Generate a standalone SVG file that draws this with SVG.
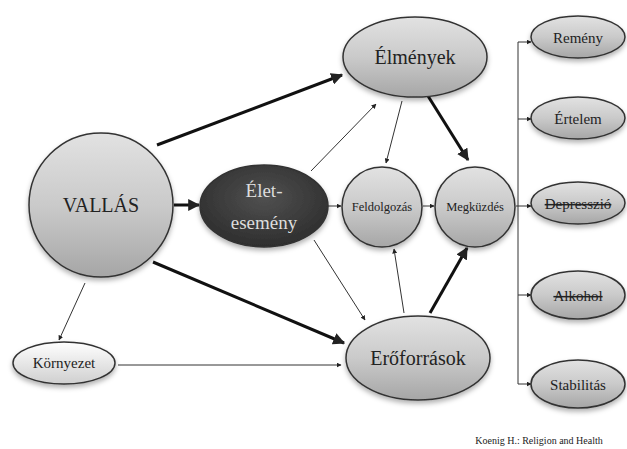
<svg xmlns="http://www.w3.org/2000/svg" width="627" height="449" viewBox="0 0 627 449">
<defs>
<linearGradient id="g" x1="0" y1="0" x2="0" y2="1">
<stop offset="0" stop-color="#e2e2e2"/><stop offset="0.5" stop-color="#cacaca"/><stop offset="1" stop-color="#a6a6a6"/>
</linearGradient>
<linearGradient id="gl" x1="0" y1="0" x2="0" y2="1">
<stop offset="0" stop-color="#ffffff"/><stop offset="1" stop-color="#cfcfcf"/>
</linearGradient>
<radialGradient id="gd" cx="0.5" cy="0.4" r="0.6">
<stop offset="0" stop-color="#505050"/><stop offset="1" stop-color="#2e2e2e"/>
</radialGradient>
<filter id="sh" x="-20%" y="-20%" width="140%" height="150%">
<feDropShadow dx="0" dy="3" stdDeviation="2.5" flood-color="#000" flood-opacity="0.3"/>
</filter>
<marker id="a" viewBox="0 0 10 10" refX="9" refY="5" markerWidth="5" markerHeight="5" orient="auto" markerUnits="userSpaceOnUse"><path d="M0,0 L10,5 L0,10 z" fill="#222"/></marker>
<marker id="ab" viewBox="0 0 10 10" refX="9" refY="5" markerWidth="4" markerHeight="4" orient="auto"><path d="M0,0 L10,5 L0,10 z" fill="#222"/></marker>
</defs>
<style>
.n{fill:url(#g);stroke:#333;stroke-width:1.5;filter:url(#sh)}
.thin{stroke:#333;stroke-width:1;fill:none;marker-end:url(#a)}
.thick{stroke:#111;stroke-width:3;fill:none;marker-end:url(#ab)}
.ln{stroke:#333;stroke-width:1;fill:none}
</style>
<rect width="627" height="449" fill="#fff"/>
<g id="connectors">
<line class="thick" x1="157" y1="145" x2="342" y2="75"/>
<line class="thick" x1="174" y1="205" x2="199" y2="205"/>
<line class="thick" x1="153" y1="262" x2="344" y2="343"/>
<line class="thin" x1="85" y1="283" x2="59" y2="340"/>
<line class="thin" x1="118" y1="365" x2="341" y2="365"/>
<line class="thin" x1="311" y1="171" x2="376" y2="104"/>
<line class="thin" x1="328" y1="206" x2="341" y2="206"/>
<line class="thin" x1="314" y1="240" x2="365" y2="320"/>
<line class="thin" x1="402" y1="101" x2="386" y2="163"/>
<line class="thick" x1="428" y1="96" x2="468" y2="160"/>
<line class="thin" x1="423" y1="206" x2="434" y2="206"/>
<line class="thin" x1="404" y1="313" x2="394" y2="249"/>
<line class="thick" x1="430" y1="313" x2="467" y2="248"/>
<line class="ln" x1="516" y1="206" x2="518" y2="206"/>
<line class="ln" x1="518" y1="42" x2="518" y2="384"/>
<line class="thin" x1="518" y1="42" x2="531" y2="42"/>
<line class="thin" x1="518" y1="119" x2="531" y2="119"/>
<line class="thin" x1="518" y1="206" x2="531" y2="206"/>
<line class="thin" x1="518" y1="295" x2="531" y2="295"/>
<line class="thin" x1="518" y1="384" x2="531" y2="384"/>
</g>
<g id="vallas"><circle class="n" cx="101" cy="205" r="72"/><text x="101" y="212" font-size="20" text-anchor="middle" fill="#222" style="font-family:'Liberation Serif'">VALLÁS</text></g>
<g id="eletesemeny"><ellipse class="n" cx="264" cy="206" rx="64" ry="41" style="fill:url(#gd)"/><text x="264" y="197" font-size="19" text-anchor="middle" fill="#ddd" style="font-family:'Liberation Serif'">Élet-</text><text x="264" y="229" font-size="19" text-anchor="middle" fill="#ddd" style="font-family:'Liberation Serif'">esemény</text></g>
<g id="elmenyek"><ellipse class="n" cx="415" cy="57" rx="72" ry="40"/><text x="415" y="64" font-size="20" text-anchor="middle" fill="#222" style="font-family:'Liberation Serif'">Élmények</text></g>
<g id="feldolgozas"><circle class="n" cx="382" cy="207" r="40"/><text x="382" y="211" font-size="12.5" text-anchor="middle" fill="#222" style="font-family:'Liberation Serif'">Feldolgozás</text></g>
<g id="megkuzdes"><circle class="n" cx="475" cy="207" r="40"/><text x="475" y="211" font-size="12.5" text-anchor="middle" fill="#222" style="font-family:'Liberation Serif'">Megküzdés</text></g>
<g id="eroforrasok"><ellipse class="n" cx="418" cy="358" rx="72" ry="42"/><text x="418" y="365" font-size="20" text-anchor="middle" fill="#222" style="font-family:'Liberation Serif'">Erőforrások</text></g>
<g id="kornyezet"><ellipse class="n" cx="64" cy="363" rx="51" ry="21" style="fill:url(#gl)"/><text x="64" y="368" font-size="15" text-anchor="middle" fill="#222" style="font-family:'Liberation Serif'">Környezet</text></g>
<g id="remeny"><ellipse class="n" cx="578" cy="37" rx="47" ry="21"/><text x="578" y="43" font-size="15" text-anchor="middle" fill="#222" style="font-family:'Liberation Serif'">Remény</text></g>
<g id="ertelem"><ellipse class="n" cx="578" cy="118" rx="47" ry="21"/><text x="578" y="124" font-size="15" text-anchor="middle" fill="#222" style="font-family:'Liberation Serif'">Értelem</text></g>
<g id="depresszio"><ellipse class="n" cx="578" cy="203" rx="47" ry="21"/><text x="578" y="209" font-size="15" text-anchor="middle" fill="#222" text-decoration="line-through" style="font-family:'Liberation Serif'">Depresszió</text></g>
<g id="alkohol"><ellipse class="n" cx="578" cy="295" rx="47" ry="24"/><text x="578" y="301" font-size="15" text-anchor="middle" fill="#222" text-decoration="line-through" style="font-family:'Liberation Serif'">Alkohol</text></g>
<g id="stabilitas"><ellipse class="n" cx="578" cy="384" rx="47" ry="24"/><text x="578" y="390" font-size="15" text-anchor="middle" fill="#222" style="font-family:'Liberation Serif'">Stabilitás</text></g>
<text x="539" y="444" font-size="10" text-anchor="middle" fill="#222" style="font-family:'Liberation Serif'">Koenig H.: Religion and Health</text>
</svg>
